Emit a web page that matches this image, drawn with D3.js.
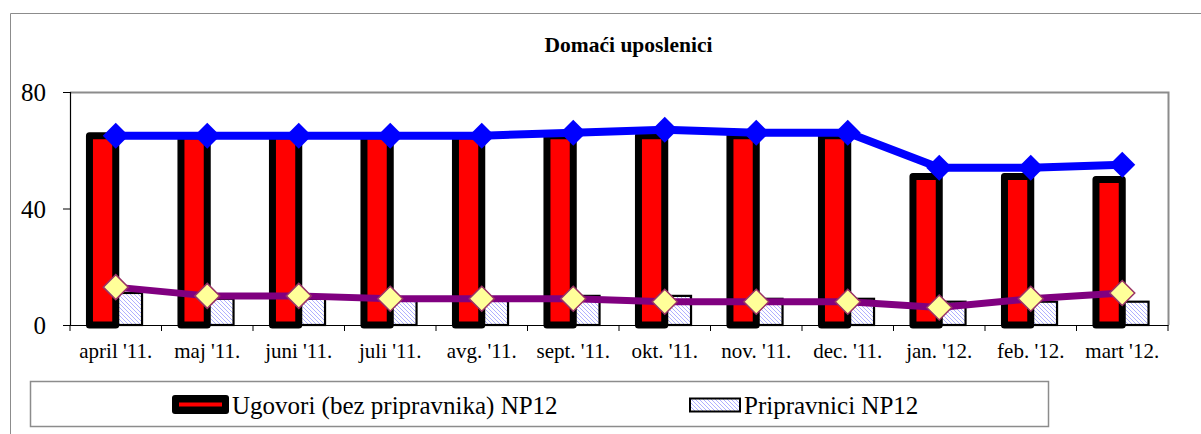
<!DOCTYPE html>
<html><head><meta charset="utf-8">
<script src="https://cdn.jsdelivr.net/npm/d3@7"></script>
<style>html,body{margin:0;padding:0;background:#fff;}svg{display:block;}</style>
</head><body>
<script>
const categories = ["april '11.","maj '11.","juni '11.","juli '11.","avg. '11.","sept. '11.","okt. '11.","nov. '11.","dec. '11.","jan. '12.","feb. '12.","mart '12."];
const ugovori = [65,65,65,65,65,65,65,65,65,51,51,50];
const pripravnici = [11,9,9,9,9,10,10,9,9,8,8,8];
const lineUgovori = [65,65,65,65,65,66,67,66,66,54,54,55];
const linePripravnici = [13,10,10,9,9,9,8,8,8,6,9,11];
const yTicks = [0,40,80];
const title = "Domaći uposlenici";
const legendLabels = ["Ugovori (bez pripravnika) NP12","Pripravnici NP12"];

const FONT = "'Liberation Serif','Times New Roman',Times,serif";
const W = 1201, H = 434;
const svg = d3.select("body").append("svg").attr("width", W).attr("height", H);
const defs = svg.append("defs");
const pat = defs.append("pattern").attr("id","hatch").attr("patternUnits","userSpaceOnUse")
  .attr("width",4).attr("height",4);
pat.append("rect").attr("width",4).attr("height",4).attr("fill","#fff");
pat.append("path").attr("d","M-1,-1 L5,5 M-1,3 L1,5 M3,-1 L5,1").attr("stroke","#b0b0ff").attr("stroke-width",1);

// outer border
svg.append("path").attr("d","M10.5,434 L10.5,13.5 L1201,13.5").attr("fill","none").attr("stroke","#8c8c8c").attr("stroke-width",1);

const L = 70, R = 1168, T = 92, B = 325;
const x = d3.scaleBand().domain(categories).range([L, R]);
const y = d3.scaleLinear().domain([0, 80]).range([B, T]);
const inner = d3.scaleBand().domain(["u","p"]).range([0, x.bandwidth()]).paddingOuter(0.74).paddingInner(0);

// plot area frame (top/right grey)
svg.append("path").attr("d",`M${L},${T+0.5} L${R+0.5},${T+0.5} L${R+0.5},${B}`).attr("fill","none").attr("stroke","#8c8c8c").attr("stroke-width",2);

svg.append("text").attr("x",628.5).attr("y",52).attr("text-anchor","middle")
  .style("font-family",FONT).attr("font-weight","bold").attr("font-size",21.5).text(title);

// bars
const g = svg.append("g");
g.selectAll("rect.p").data(pripravnici).join("rect").attr("class","p")
  .attr("x",(d,i)=>x(categories[i])+inner("p")).attr("width",inner.bandwidth())
  .attr("y",d=>y(d)).attr("height",d=>B-y(d))
  .attr("fill","url(#hatch)").attr("stroke","#000").attr("stroke-width",2.2);
g.selectAll("rect.u").data(ugovori).join("rect").attr("class","u")
  .attr("x",(d,i)=>x(categories[i])+inner("u")).attr("width",inner.bandwidth())
  .attr("y",d=>y(d)).attr("height",d=>B-y(d))
  .attr("fill","#ff0000").attr("stroke","#000").attr("stroke-width",7).attr("stroke-linejoin","round");

// axes
const yAxis = d3.axisLeft(y).tickValues(yTicks).tickSize(7).tickFormat(d3.format("d"));
const ya = svg.append("g").attr("transform",`translate(${L},0)`).call(yAxis);
ya.select(".domain").attr("stroke","#000").attr("stroke-width",1.2);
ya.selectAll(".tick line").attr("stroke","#000");
ya.selectAll(".tick text").style("font-family",FONT).attr("font-size",25).attr("fill","#000").attr("x",-24).attr("dy","0.35em");

const xa = svg.append("g").attr("transform",`translate(0,${B})`)
  .call(d3.axisBottom(x).tickSize(0));
xa.select(".domain").attr("stroke","#000").attr("stroke-width",1.2);
xa.selectAll(".tick text").style("font-family",FONT).attr("font-size",21).attr("fill","#000")
  .attr("y",33).attr("dy",0);
// category boundary ticks
svg.append("g").selectAll("line").data(d3.range(categories.length+1)).join("line")
  .attr("x1",i=>L + i*x.step()).attr("x2",i=>L + i*x.step())
  .attr("y1",B).attr("y2",B+6).attr("stroke","#000").attr("stroke-width",1);

const cx = i => x(categories[i]) + x.bandwidth()/2;
const line = d3.line().x((d,i)=>cx(i)).y(d=>y(d));
const diamond = r => `M0,${-r} L${r},0 L0,${r} L${-r},0 Z`;

svg.append("path").datum(lineUgovori).attr("d",line).attr("fill","none")
  .attr("stroke","#0000ff").attr("stroke-width",8).attr("stroke-linejoin","round");
svg.append("g").selectAll("path").data(lineUgovori).join("path")
  .attr("transform",(d,i)=>`translate(${cx(i)},${y(d)})`).attr("d",diamond(13)).attr("fill","#0000ff");

svg.append("path").datum(linePripravnici).attr("d",line).attr("fill","none")
  .attr("stroke","#800080").attr("stroke-width",7).attr("stroke-linejoin","round");
svg.append("g").selectAll("path").data(linePripravnici).join("path")
  .attr("transform",(d,i)=>`translate(${cx(i)},${y(d)})`).attr("d",diamond(12.5))
  .attr("fill","#ffff99").attr("stroke","#993366").attr("stroke-width",1.5);

// legend
svg.append("rect").attr("x",30.5).attr("y",381.5).attr("width",1018).attr("height",45)
  .attr("fill","#fff").attr("stroke","#8c8c8c").attr("stroke-width",1.5);
svg.append("rect").attr("x",172).attr("y",395).attr("width",57).attr("height",19).attr("rx",3)
  .attr("fill","#000");
svg.append("rect").attr("x",179).attr("y",402.5).attr("width",43).attr("height",4).attr("fill","#ff0000");
svg.append("text").attr("x",232).attr("y",414).style("font-family",FONT).attr("font-size",25)
  .attr("fill","#000").text(legendLabels[0]);
svg.append("rect").attr("x",690).attr("y",398.5).attr("width",50).attr("height",13)
  .attr("fill","url(#hatch)").attr("stroke","#000").attr("stroke-width",2);
svg.append("text").attr("x",744).attr("y",414).style("font-family",FONT).attr("font-size",25)
  .attr("fill","#000").text(legendLabels[1]);
</script>
</body></html>
